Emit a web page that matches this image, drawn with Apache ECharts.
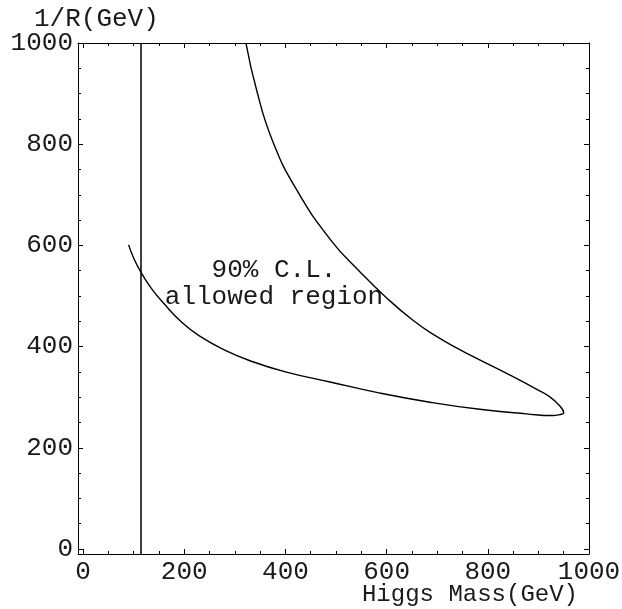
<!DOCTYPE html>
<html>
<head>
<meta charset="utf-8">
<script src="https://cdn.jsdelivr.net/npm/echarts@6/dist/echarts.min.js"></script>
<style>html,body{margin:0;padding:0;background:#fff}#c{width:622px;height:609px}</style>
</head>
<body>
<div id="c"></div>
<script>
// Contour of the 90% C.L. allowed region (lower branch then upper branch)
const contourMass = [90, 100, 113.7, 135, 159, 195, 231.5, 280, 330, 400, 488, 587, 685.6, 784, 876, 929, 942, 950,
                     942, 922, 896, 843, 777, 744.6, 697, 652, 598, 547, 490, 422, 374, 343, 322];
const contourInvR = [601, 575, 548, 515, 486, 448, 420, 393, 372, 350, 330, 308, 290, 276, 267, 263.6, 265.6, 269,
                     283, 301, 316, 344, 377, 394, 421, 452, 498, 548, 610, 710, 808, 907, 1000];
// LEP lower bound on the Higgs mass
const higgsBound = 114;
// Tick values
const majorTicks = [0, 200, 400, 600, 800, 1000];
const minorTicks = [];
for (let v = 0; v <= 1000; v += 50) if (v % 200 !== 0) minorTicks.push(v);

const FONT = '"Liberation Mono", "DejaVu Sans Mono", monospace';
const BLACK = '#000';
const TEXT = '#1a1a1a';

function mkAxis(pos, isMajor, showLabel) {
  return {
    type: 'value', min: -10, max: 1000, position: pos,
    axisLine: { show: isMajor, onZero: false, lineStyle: { color: BLACK, width: 1 } },
    axisTick: { show: true, inside: true, length: isMajor ? 5 : 3, customValues: isMajor ? majorTicks : minorTicks,
                lineStyle: { color: BLACK, width: 1 } },
    axisLabel: showLabel ? { show: true, customValues: majorTicks, formatter: v => String(v),
                             fontFamily: FONT, fontSize: 26, color: TEXT, margin: 5 }
                         : { show: false },
    splitLine: { show: false }
  };
}

const chart = echarts.init(document.getElementById('c'), null, { renderer: 'canvas' });
chart.setOption({
  animation: false,
  backgroundColor: '#fff',
  grid: { left: 78, top: 43, right: 33, bottom: 55, containLabel: false, outerBoundsMode: 'none' },
  xAxis: [mkAxis('bottom', true, true), mkAxis('bottom', false, false), mkAxis('top', true, false), mkAxis('top', false, false)],
  yAxis: [mkAxis('left', true, true), mkAxis('left', false, false), mkAxis('right', true, false), mkAxis('right', false, false)],
  graphic: [
    { type: 'text', left: 34, top: 6, style: { text: '1/R(GeV)', font: '26px ' + FONT, fill: TEXT } },
    { type: 'text', x: 578, y: 595, style: { text: 'Higgs Mass(GeV)', font: '24px ' + FONT, fill: TEXT, textAlign: 'right', textVerticalAlign: 'middle' } },
    { type: 'text', x: 274, y: 270, style: { text: '90% C.L.', font: '26px ' + FONT, fill: TEXT, textAlign: 'center', textVerticalAlign: 'middle' } },
    { type: 'text', x: 274, y: 297, style: { text: 'allowed region', font: '26px ' + FONT, fill: TEXT, textAlign: 'center', textVerticalAlign: 'middle' } }
  ],
  series: [
    {
      type: 'line', xAxisIndex: 0, yAxisIndex: 0, symbol: 'none', smooth: 0.5,
      lineStyle: { color: BLACK, width: 1.4 },
      data: contourMass.map((m, i) => [m, contourInvR[i]]),
      markLine: {
        silent: true, symbol: 'none', label: { show: false },
        lineStyle: { color: BLACK, width: 1.5, type: 'solid' },
        data: [{ xAxis: higgsBound }]
      }
    }
  ]
});
</script>
</body>
</html>
